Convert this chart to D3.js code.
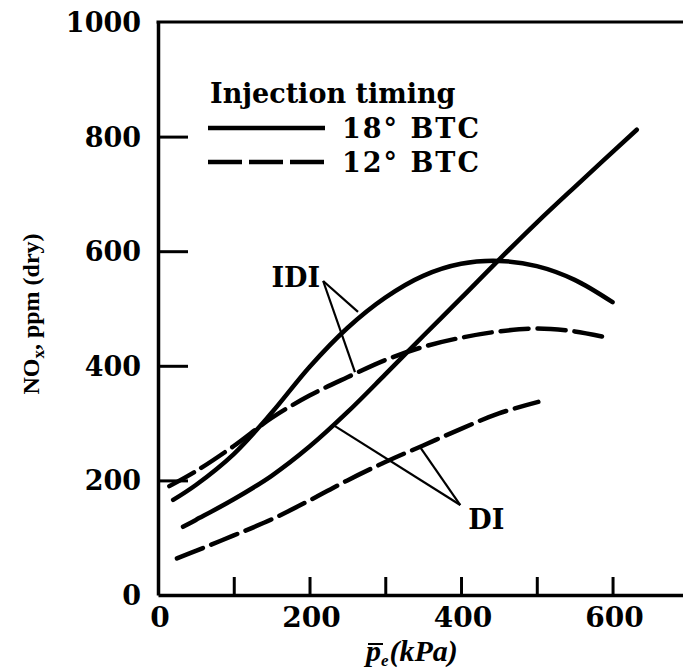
<!DOCTYPE html>
<html><head><meta charset="utf-8">
<script src="https://cdn.jsdelivr.net/npm/d3@7"></script>
<style>html,body{margin:0;padding:0;background:#fff}</style>
</head><body><svg id="c" width="683" height="671"></svg>
<script>
// ---- data (kPa, ppm) ----
const idi18 = [[20,166],[50,192],[100,246],[150,318],[200,398],[250,466],[300,519],[350,557],[400,578],[450,583],[500,574],[550,550],[600,511]];
const idi12 = [[15,190],[50,216],[100,260],[150,309],[200,348],[250,380],[300,410],[350,433],[400,449],[450,460],[500,465],[550,460],[590,450]];
const di18  = [[33,119],[50,131],[100,167],[150,208],[200,259],[250,319],[300,385],[350,452],[400,518],[450,585],[500,650],[550,712],[632,812]];
const di12  = [[25,64],[50,77],[100,104],[150,132],[200,165],[250,200],[300,232],[350,261],[400,290],[450,317],[502,337]];
const xTickValues = [100,200,300,400,500,600];
const xTickLabels = [0,200,400,600];
const yTickValues = [200,400,600,800];
const yTickLabels = [0,200,400,600,800,1000];
const legendTitle = "Injection timing";
const legendItems = [{label:"18° BTC", dashed:false},{label:"12° BTC", dashed:true}];
const annotations = [
  {label:"IDI", apex:[218,548], targets:[[264,494],[260,389]]},
  {label:"DI",  apex:[399,157], targets:[[231,297],[346,258]]}
];
const series = [
  {data:idi18, dashed:false},
  {data:idi12, dashed:true},
  {data:di18,  dashed:false},
  {data:di12,  dashed:true}
];

const svg = d3.select("#c");
const x = d3.scaleLinear().domain([0,693]).range([158,683]);
const y = d3.scaleLinear().domain([0,1000]).range([595,22]);
const serif = "'DejaVu Serif', serif";
const DASH = "28,9";

// axes
const gx = svg.append("g").attr("transform",`translate(0,${y(0)})`)
  .call(d3.axisBottom(x).tickValues(xTickValues).tickSize(-18).tickSizeOuter(0).tickFormat(""));
const gy = svg.append("g").attr("transform",`translate(${x(0)},0)`)
  .call(d3.axisLeft(y).tickValues(yTickValues).tickSize(-30).tickSizeOuter(0).tickFormat(""));
[gx,gy].forEach(g=>{
  g.select(".domain").attr("stroke","#000").attr("stroke-width",3.5);
  g.selectAll(".tick line").attr("stroke","#000").attr("stroke-width",3);
});
svg.append("line").attr("x1",x(0)-1.5).attr("x2",x(693)).attr("y1",y(1000)).attr("y2",y(1000))
  .attr("stroke","#000").attr("stroke-width",3);

// tick labels
svg.append("g").selectAll("text").data(yTickLabels).join("text")
  .attr("x",141).attr("y",d=>y(d)+10).attr("text-anchor","end")
  .attr("font-family",serif).attr("font-weight","bold").attr("font-size",27).text(d=>d);
svg.append("g").selectAll("text").data(xTickLabels).join("text")
  .attr("x",d=>x(d)+2).attr("y",627).attr("text-anchor","middle")
  .attr("font-family",serif).attr("font-weight","bold").attr("font-size",28).text(d=>d);

// axis titles
const yt = svg.append("text").attr("transform","translate(39,314) rotate(-90)")
  .attr("text-anchor","middle").attr("font-family","'Liberation Serif', serif")
  .attr("font-weight","bold").attr("font-size",24);
yt.append("tspan").text("NO");
yt.append("tspan").attr("font-size",17).attr("dy",5).text("x");
yt.append("tspan").attr("dy",-5).text(", ppm (dry)");

const xt = svg.append("text").attr("x",366).attr("y",661)
  .attr("font-family","'Liberation Serif', serif").attr("font-weight","bold")
  .attr("font-style","italic").attr("font-size",30);
xt.append("tspan").text("p");
xt.append("tspan").attr("font-size",17).attr("dy",5).text("e");
xt.append("tspan").attr("dy",-5).attr("dx",1).text("(kPa)");
svg.append("line").attr("x1",368).attr("x2",383).attr("y1",644).attr("y2",644)
  .attr("stroke","#000").attr("stroke-width",2);

// curves
const line = d3.line().x(d=>x(d[0])).y(d=>y(d[1])).curve(d3.curveCatmullRom.alpha(0.5));
svg.append("g").selectAll("path").data(series).join("path")
  .attr("d",d=>line(d.data)).attr("fill","none").attr("stroke","#000")
  .attr("stroke-width",4.5).attr("stroke-linecap","round")
  .attr("stroke-dasharray",d=>d.dashed?DASH:null);

// annotations
annotations.forEach(a=>{
  a.targets.forEach(t=>{
    svg.append("line").attr("x1",x(a.apex[0])).attr("y1",y(a.apex[1]))
      .attr("x2",x(t[0])).attr("y2",y(t[1])).attr("stroke","#000").attr("stroke-width",2.2);
  });
});
svg.append("text").attr("x",x(218)-3).attr("y",y(548)+6).attr("text-anchor","end")
  .attr("font-family",serif).attr("font-weight","bold").attr("font-size",27).text(annotations[0].label);
svg.append("text").attr("x",x(399)+8).attr("y",y(157)+24).attr("text-anchor","start")
  .attr("font-family",serif).attr("font-weight","bold").attr("font-size",27).text(annotations[1].label);

// legend
svg.append("text").attr("x",210).attr("y",103).attr("font-family",serif).attr("font-weight","bold")
  .attr("font-size",27).text(legendTitle);
legendItems.forEach((it,i)=>{
  const ly = 128 + i*34;
  svg.append("line").attr("x1",208).attr("x2",325).attr("y1",ly).attr("y2",ly)
    .attr("stroke","#000").attr("stroke-width",4.5).attr("stroke-dasharray",it.dashed?"34,7":null);
  svg.append("text").attr("x",342).attr("y",ly+10).attr("font-family",serif).attr("font-weight","bold")
    .attr("font-size",27).attr("letter-spacing",2).text(it.label);
});
</script></body></html>
